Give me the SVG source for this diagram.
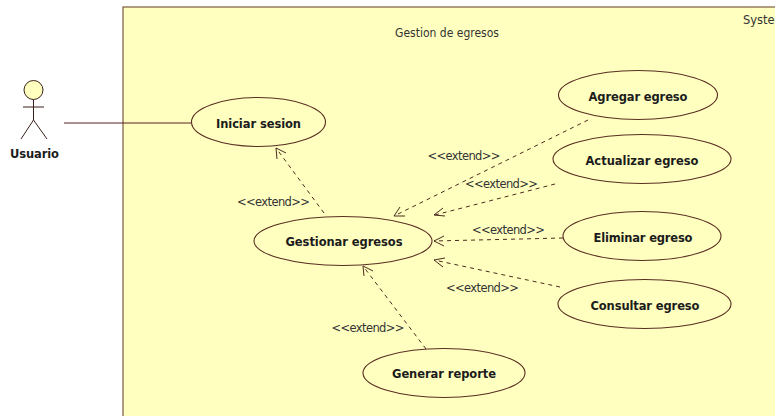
<svg xmlns="http://www.w3.org/2000/svg" width="775" height="416" viewBox="0 0 775 416">
<style>
.uc{fill:#FFFFC0;stroke:#5a2e22;stroke-width:1.1}
.b{font:bold 11.5px "DejaVu Sans",sans-serif;fill:#1c1c1c;text-anchor:middle}
.t{font:11.5px "DejaVu Sans",sans-serif;fill:#333;text-anchor:middle}
.d{fill:none;stroke:#4a2a1e;stroke-width:1;stroke-dasharray:4 4}
.h{fill:none;stroke:#4a2a1e;stroke-width:1}
</style>
<rect width="775" height="416" fill="#fff"/>
<g id="system">
<rect x="123" y="7" width="720" height="500" fill="#FFFFC0" stroke="#7a5a42" stroke-width="1.2"/>
<text class="t" x="447" y="37" textLength="104" lengthAdjust="spacingAndGlyphs">Gestion de egresos</text>
<text x="743" y="24" style="font:11.5px 'DejaVu Sans',sans-serif;fill:#333">System</text>
</g>
<g id="connectors">
<line x1="64" y1="123" x2="191" y2="123" stroke="#5a2020" stroke-width="1.1"/>
<line class="d" x1="324" y1="213" x2="276" y2="148"/><path class="h" d="M277 159L276 148L286 153"/>
<line class="d" x1="588" y1="120" x2="394" y2="216"/><path class="h" d="M400 207L394 216L405 216"/>
<line class="d" x1="555" y1="184" x2="435" y2="215"/><path class="h" d="M443 208L434 215L445 216"/>
<line class="d" x1="563" y1="238" x2="434" y2="241"/><path class="h" d="M444 236L434 241L444 246"/>
<line class="d" x1="560" y1="287" x2="434" y2="260"/><path class="h" d="M445 258L434 260L443 267"/>
<line class="d" x1="426" y1="349" x2="363" y2="266"/><path class="h" d="M364 276L363 266L373 271"/>
</g>
<g class="t">
<text class="t" x="273.500" y="206" textLength="73">&lt;&lt;extend&gt;&gt;</text>
<text class="t" x="464" y="160" textLength="73">&lt;&lt;extend&gt;&gt;</text>
<text class="t" x="501.500" y="188" textLength="73">&lt;&lt;extend&gt;&gt;</text>
<text class="t" x="508.500" y="234" textLength="73">&lt;&lt;extend&gt;&gt;</text>
<text class="t" x="482.500" y="292" textLength="73">&lt;&lt;extend&gt;&gt;</text>
<text class="t" x="368" y="332" textLength="73">&lt;&lt;extend&gt;&gt;</text>
</g>
<g id="usuario">
<circle cx="33.500" cy="90" r="9.500" fill="#FFFFC0" stroke="#3a2018" stroke-width="1"/>
<path d="M33.500 99.500V120M23 107H44M33.500 120L21 139M33.500 120L47 139" fill="none" stroke="#3a2018" stroke-width="1"/>
<text class="b" x="34.500" y="158" textLength="49">Usuario</text>
</g>
<g id="iniciar-sesion"><ellipse class="uc" cx="258.500" cy="122" rx="67" ry="24.500"/><text class="b" x="258.500" y="128" textLength="85">Iniciar sesion</text></g>
<g id="agregar-egreso"><ellipse class="uc" cx="638" cy="95" rx="79.500" ry="24.500"/><text class="b" x="638" y="101" textLength="99">Agregar egreso</text></g>
<g id="actualizar-egreso"><ellipse class="uc" cx="642" cy="159" rx="89" ry="24.500"/><text class="b" x="642" y="165" textLength="113">Actualizar egreso</text></g>
<g id="gestionar-egresos"><ellipse class="uc" cx="343" cy="241" rx="89" ry="24.500"/><text class="b" x="344" y="246" textLength="117">Gestionar egresos</text></g>
<g id="eliminar-egreso"><ellipse class="uc" cx="642" cy="236" rx="79" ry="24.500"/><text class="b" x="643" y="242" textLength="99">Eliminar egreso</text></g>
<g id="consultar-egreso"><ellipse class="uc" cx="644.500" cy="304" rx="86.500" ry="24.500"/><text class="b" x="645" y="310" textLength="109">Consultar egreso</text></g>
<g id="generar-reporte"><ellipse class="uc" cx="444" cy="373" rx="81" ry="24.500"/><text class="b" x="444" y="378" textLength="104">Generar reporte</text></g>
</svg>
